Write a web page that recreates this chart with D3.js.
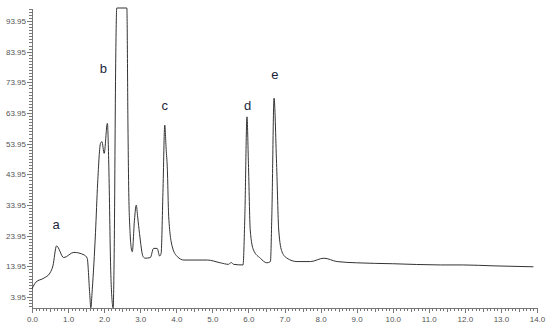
<!DOCTYPE html>
<html>
<head>
<meta charset="utf-8">
<script src="https://cdn.jsdelivr.net/npm/d3@7"></script>
<style>
  body { margin: 0; background: #fff; }
  svg { display: block; font-family: "Liberation Sans", Arial, sans-serif; }
  .axis path, .axis line { stroke: #777; shape-rendering: crispEdges; }
  .axis text { fill: #555; font-size: 8px; }
</style>
</head>
<body>
<div id="chart-area"></div>
<script>
// retention time (min) and detector signal
let times = [0, 0.11, 0.33, 0.5, 0.58, 0.68, 0.88, 1.16, 1.44, 1.53, 1.6, 1.63, 1.67, 1.76, 1.82, 1.9, 1.94, 2.0, 2.09,
	2.13, 2.18, 2.23, 2.25, 2.28, 2.32, 2.35, 2.63, 2.66, 2.68, 2.72, 2.76, 2.78, 2.84, 2.89, 2.93, 2.98, 3.08, 3.14,
	3.28, 3.37, 3.47, 3.54, 3.58, 3.63, 3.68, 3.72, 3.75, 3.79, 3.89, 4.03, 4.21, 4.86, 5.22, 5.45, 5.52, 5.59, 5.85,
	5.9, 5.96, 6.0, 6.05, 6.14, 6.33, 6.51, 6.61, 6.65, 6.71, 6.78, 6.84, 6.93, 7.07, 7.35, 7.72, 8.09, 8.46, 9.0,
	10.0, 11.33, 11.94, 12.81, 13.9];
let signal = [6.6, 8.8, 10.1, 11.8, 14.1, 20.6, 16.8, 18.5, 17.7, 16.6, 5.0, 0.4, 6.3, 24.9, 41.1, 54.1, 54.6, 50.8, 60.6,
	46.4, 13.8, 1.5, 0.4, 20, 80, 98.2, 98.2, 60, 39.9, 24.7, 19.3, 18.7, 29, 33.9, 30, 24.7, 17.1, 16.6,
	16.8, 19.8, 19.8, 17.3, 18.2, 38, 60.0, 52, 46.4, 30.1, 20.3, 17.1, 16.0, 16.0, 15.1, 14.6, 15.2, 14.6, 14.4,
	30, 62.7, 47.5, 25.8, 19.3, 16.6, 15.1, 15.5, 31.2, 68.8, 47.5, 25.8, 18.7, 16.6, 15.5, 15.5, 16.6, 15.5, 15.1,
	14.8, 14.4, 14.4, 14.1, 13.8];

// peak labels
let peakNames = ["a", "b", "c", "d", "e"];
let peakTimes = [0.67, 1.98, 3.68, 5.98, 6.73];
let peakLabelY = [26, 77, 65, 65, 75];

let xTicks = [0, 1, 2, 3, 4, 5, 6, 7, 8, 9, 10, 11, 12, 13, 14];
let yTicks = [3.95, 13.95, 23.95, 33.95, 43.95, 53.95, 63.95, 73.95, 83.95, 93.95];

let data = times.map((t, i) => ({ t: t, v: signal[i] }));

let svg = d3.select("#chart-area")
	.append("svg")
	.attr("width", 550)
	.attr("height", 330);

// Scales
let x = d3.scaleLinear()
	.domain([0, 14])
	.range([32, 537]);

let y = d3.scaleLinear()
	.domain([0.36, 98.2])
	.range([308, 8]);

// minor ticks
let xMinor = d3.range(0, 141).map((d) => d / 10);
let xHalf = d3.range(0, 28).map((d) => d + 0.5).filter((d) => d < 14);
let yMinor = d3.range(0.95, 98.3, 1);

svg.append("g")
	.attr("class", "axis")
	.attr("transform", "translate(0,308)")
	.call(d3.axisBottom(x).tickValues(xMinor).tickSize(3).tickFormat(""))
	.select(".domain").remove();

svg.append("g")
	.attr("class", "axis")
	.attr("transform", "translate(0,308)")
	.call(d3.axisBottom(x).tickValues(xHalf).tickSize(4).tickFormat(""))
	.select(".domain").remove();

svg.append("g")
	.attr("class", "axis")
	.attr("transform", "translate(0,308)")
	.call(d3.axisBottom(x).tickValues(xTicks).tickSize(5).tickSizeOuter(0).tickPadding(3).tickFormat(d3.format(".1f")));

svg.append("g")
	.attr("class", "axis")
	.attr("transform", "translate(32,0)")
	.call(d3.axisLeft(y).tickValues(yMinor).tickSize(3).tickFormat(""))
	.select(".domain").remove();

svg.append("g")
	.attr("class", "axis")
	.attr("transform", "translate(32,0)")
	.call(d3.axisLeft(y).tickValues(yTicks).tickSize(5).tickSizeOuter(0).tickPadding(1).tickFormat(d3.format(".2f")));

// Trace
let line = d3.line()
	.x((d) => x(d.t))
	.y((d) => y(d.v))
	.curve(d3.curveMonotoneX);

svg.append("path")
	.datum(data)
	.attr("fill", "none")
	.attr("stroke", "#333")
	.attr("stroke-width", 1)
	.attr("d", line);

// Peak labels
peakNames.forEach((name, i) => {
	svg.append("text")
		.attr("x", x(peakTimes[i]))
		.attr("y", y(peakLabelY[i]))
		.attr("text-anchor", "middle")
		.attr("font-size", "13px")
		.attr("fill", "#1b1f3a")
		.text(name);
});
</script>
</body>
</html>
